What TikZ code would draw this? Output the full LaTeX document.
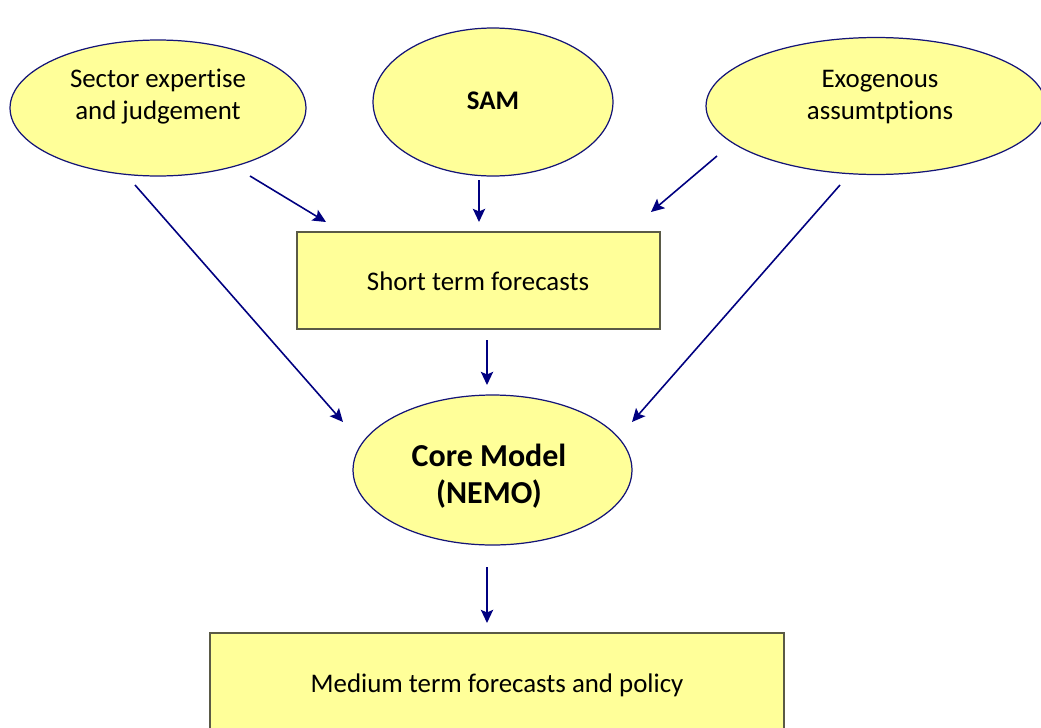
\documentclass[tikz,border=0pt]{standalone}
\usepackage{fontspec}
\setmainfont[Ligatures=NoCommon]{Carlito}
\usetikzlibrary{shapes.geometric,arrows.meta}
\definecolor{fillyellow}{RGB}{255,255,153}
\definecolor{edgenavy}{RGB}{20,20,120}
\definecolor{arrownavy}{RGB}{0,0,128}
\definecolor{boxedge}{RGB}{90,90,70}
\tikzset{
  bubble/.style={ellipse, draw=edgenavy, line width=0.7pt, fill=fillyellow, inner sep=0pt},
  panel/.style={rectangle, draw=boxedge, line width=0.7pt, fill=fillyellow, inner sep=0pt},
  caption/.style={align=center, inner sep=0pt, font=\fontsize{15.3}{18.2}\selectfont},
  bigcaption/.style={align=center, inner sep=0pt, font=\fontsize{18.2}{21}\selectfont\bfseries},
  flow/.style={draw=arrownavy, line width=0.9pt,
    -{Stealth[length=7.5pt,width=7pt,inset=1.5pt]}}
}
\begin{document}
\begin{tikzpicture}[x=0.02cm,y=-0.02cm]
\useasboundingbox (0,0) rectangle (1041,727);
\begin{scope}
\clip (0,0) rectangle (1041,727);
% inputs
\node[bubble, minimum width=5.92cm, minimum height=2.72cm] (sector) at (158,108) {};
\node[caption] (sectortext) at (158,97) {Sector expertise\\and judgement};
\node[bubble, minimum width=4.8cm, minimum height=2.96cm] (sam) at (493,102) {};
\node[caption, font=\fontsize{15.3}{18.2}\selectfont\bfseries] (samtext) at (493,101) {SAM};
\node[bubble, minimum width=6.8cm, minimum height=2.74cm] (exo) at (876,106) {};
\node[caption] (exotext) at (880,97) {Exogenous\\assumtptions};
% intermediate and core
\node[panel, minimum width=7.26cm, minimum height=1.94cm] (stf) at (478.5,280.5) {};
\node[caption] (stftext) at (478,281) {Short term forecasts};
\node[bubble, minimum width=5.58cm, minimum height=3.0cm] (core) at (492.5,470) {};
\node[bigcaption] (coretext) at (489,476) {Core Model\\(NEMO)};
% result
\node[panel, minimum width=11.48cm, minimum height=2.4cm] (mtf) at (497,693) {};
\node[caption] (mtftext) at (497,685) {Medium term forecasts and policy};
\end{scope}
% connector end points
\coordinate (s1) at (250,176);  \coordinate (e1) at (326,222);
\coordinate (s2) at (479,180);  \coordinate (e2) at (479,222);
\coordinate (s3) at (717,156);  \coordinate (e3) at (651,212);
\coordinate (s4) at (135,185);  \coordinate (e4) at (343,422);
\coordinate (s5) at (840,185);  \coordinate (e5) at (632,422);
\coordinate (s6) at (487,340);  \coordinate (e6) at (487,385);
\coordinate (s7) at (487,567);  \coordinate (e7) at (487,623);
\draw[flow] (s1) -- (e1);
\draw[flow] (s2) -- (e2);
\draw[flow] (s3) -- (e3);
\draw[flow] (s4) -- (e4);
\draw[flow] (s5) -- (e5);
\draw[flow] (s6) -- (e6);
\draw[flow] (s7) -- (e7);
\end{tikzpicture}
\end{document}
